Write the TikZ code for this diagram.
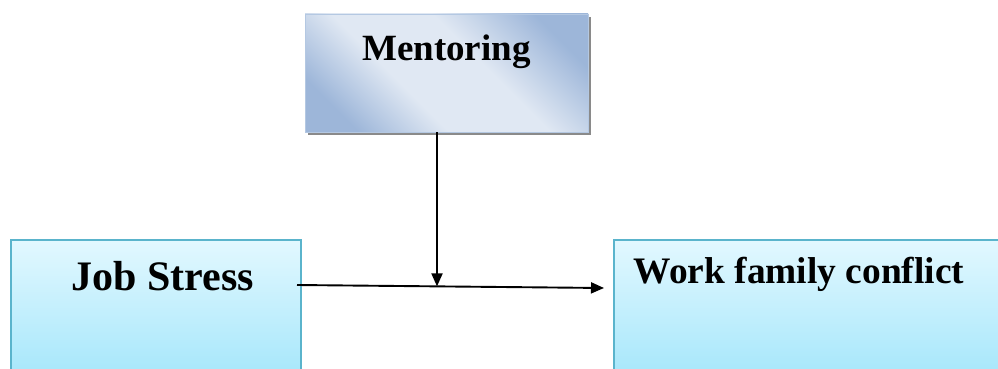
\documentclass[tikz,border=0pt]{standalone}
\usepackage{fontspec}
\setmainfont{Liberation Serif}
\usetikzlibrary{arrows.meta}
\definecolor{cyanedge}{HTML}{5AB4CC}
\definecolor{cyantop}{HTML}{E2F8FF}
\definecolor{cyanbot}{HTML}{9CE4FA}
\definecolor{mdark}{HTML}{9DB6D9}
\definecolor{mlight}{HTML}{E0E8F3}
\definecolor{medge}{HTML}{B4C8E2}
\definecolor{mshadow}{HTML}{8A8A8A}
\pgfdeclareverticalshading{mshade}{100bp}{color(0bp)=(mdark); color(24bp)=(mdark); color(40bp)=(mlight); color(58bp)=(mlight); color(76bp)=(mdark); color(100bp)=(mdark)}
\tikzset{
  cyanbox/.style={draw=cyanedge, line width=1.2pt, top color=cyantop, bottom color=cyanbot, rectangle, inner sep=0pt},
  mentbox/.style={draw=medge, line width=0.8pt, shading=mshade, shading angle=-45, rectangle, inner sep=0pt},
  shadowbox/.style={fill=mshadow, draw=none, rectangle, inner sep=0pt},
  lbl/.style={text=black, inner sep=0pt, anchor=base},
  conn/.style={line width=1.9pt, -{Triangle[length=13pt,width=11pt]}}
}
\begin{document}
\begin{tikzpicture}[x=1pt,y=-1pt]
\useasboundingbox (0,0) rectangle (998,369);
\clip (0,0) rectangle (998,369);
\node[shadowbox, minimum width=283pt, minimum height=118pt] (msh) at (449.5,76) {};
\node[mentbox, minimum width=283pt, minimum height=118pt] (m) at (446.5,73) {};
\node[cyanbox, minimum width=290pt, minimum height=160pt] (js) at (156,320) {};
\node[cyanbox, minimum width=386pt, minimum height=160pt] (wf) at (807,320) {};
\node[lbl, font=\fontsize{37}{40}\selectfont\bfseries] (mt) at (446.5,60) {Mentoring};
\node[lbl, font=\fontsize{42}{46}\selectfont\bfseries] (jt) at (162.5,290) {Job Stress};
\node[lbl, font=\fontsize{37.4}{40}\selectfont\bfseries] (wt) at (799,283) {Work family conflict};
\coordinate (hs) at (297,285);
\coordinate (he) at (604,288);
\coordinate (vs) at (437,132);
\coordinate (ve) at (437,286.4);
\draw[conn] (hs) -- (he);
\draw[conn] (vs) -- (ve);
\end{tikzpicture}
\end{document}
